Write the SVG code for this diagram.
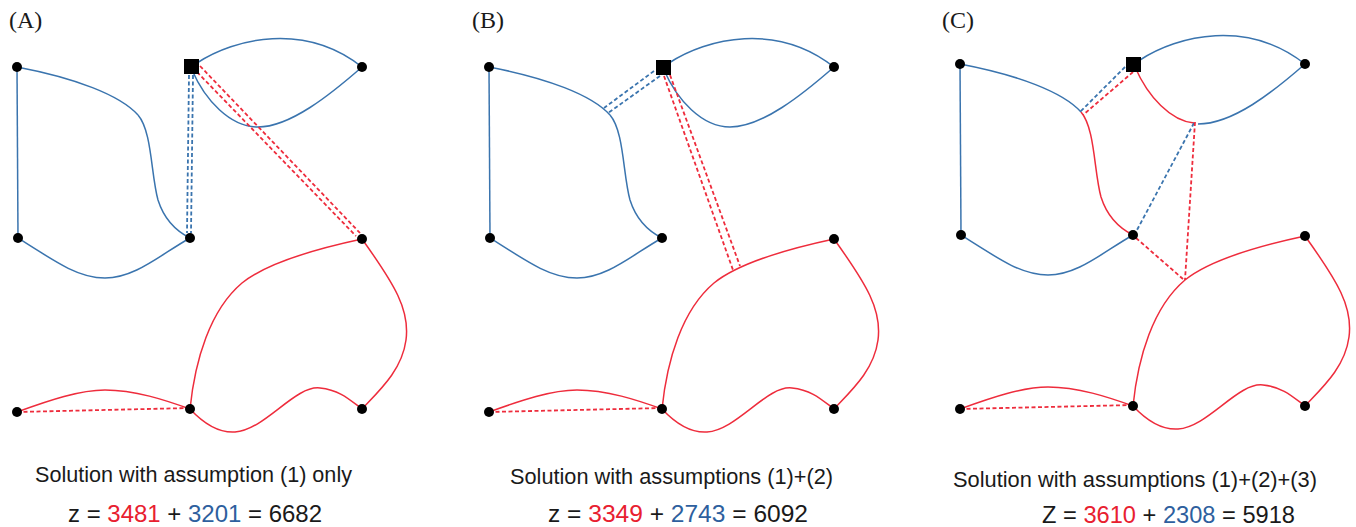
<svg xmlns="http://www.w3.org/2000/svg" width="1356" height="527" viewBox="0 0 1356 527">
<style>
.bg{fill:#ffffff}
.b{fill:none;stroke:#3a74ae;stroke-width:1.5}
.r{fill:none;stroke:#ee2c3c;stroke-width:1.5}
.bd{fill:none;stroke:#3a74ae;stroke-width:1.8;stroke-dasharray:4 2.5}
.rd{fill:none;stroke:#ee2c3c;stroke-width:1.8;stroke-dasharray:4 2.5}
.nd{fill:#000000}
.lbl{font-family:"Liberation Serif","Times New Roman",serif;font-size:24px;fill:#1a1a1a}
.cap{font-family:"Liberation Sans",Arial,sans-serif;font-size:21.5px;fill:#1a1a1a}
.eq{font-family:"Liberation Sans",Arial,sans-serif;font-size:24px;fill:#1a1a1a}
.tr{fill:#e8202f}
.tb{fill:#2e5f9e}
</style>
<defs>
<path id="leftTop" d="M17,67 C75,78 120,95 138,115"/>
<path id="leftBot" d="M138,115 C152,131 151,175 158,200 C165,222 178,232 190,238"/>
<path id="mlC" d="M18,238 C60,265 80,278 105,278 C135,278 160,255 190,238"/>
<path id="tlMl" d="M17,67 L18,238"/>
<path id="topArc" d="M197,63 C235,38 305,22 362,67"/>
<path id="botArc" d="M192,70 C205,100 230,127 258,127 C290,127 330,95 362,67"/>
<path id="bigRed" d="M362,239 C320,248 268,262 242,283 C210,310 195,360 190,409"/>
<path id="rightRed" d="M362,239 C395,285 410,310 406,340 C402,370 380,390 362,409"/>
<path id="wave" d="M190,409 C205,425 220,433 235,432 C265,430 295,385 320,388 C340,390 350,400 362,409"/>
<path id="blArc" d="M17,412 C50,400 80,390 105,390 C135,390 165,400 190,409"/>
<path id="blDash" d="M17,412 L190,408"/>
</defs>
<rect class="bg" x="0" y="0" width="1356" height="527"/>

<!-- Panel A -->
<g id="panelA">
<text class="lbl" x="9" y="28">(A)</text>
<g id="A-connectors">
<use href="#tlMl" class="b"/>
<use href="#leftTop" class="b"/>
<use href="#leftBot" class="b"/>
<use href="#mlC" class="b"/>
<use href="#topArc" class="b"/>
<use href="#botArc" class="b"/>
<path class="bd" d="M189,75 L187,233"/>
<path class="bd" d="M193,75 L191,233"/>
<path class="rd" d="M197,72 L356,236"/>
<path class="rd" d="M200,66 L360,233"/>
<use href="#bigRed" class="r"/>
<use href="#rightRed" class="r"/>
<use href="#wave" class="r"/>
<use href="#blArc" class="r"/>
<use href="#blDash" class="rd"/>
</g>
<g id="A-TL"><circle class="nd" cx="17" cy="67" r="5"/></g>
<g id="A-ML"><circle class="nd" cx="18" cy="238" r="5"/></g>
<g id="A-C"><circle class="nd" cx="190" cy="238" r="5"/></g>
<g id="A-SQ"><rect class="nd" x="184" y="59" width="15" height="15"/></g>
<g id="A-TR"><circle class="nd" cx="362" cy="67" r="5"/></g>
<g id="A-RM"><circle class="nd" cx="362" cy="239" r="5"/></g>
<g id="A-BL"><circle class="nd" cx="17" cy="412" r="5"/></g>
<g id="A-BC"><circle class="nd" cx="190" cy="409" r="5"/></g>
<g id="A-BR"><circle class="nd" cx="362" cy="409" r="5"/></g>
</g>

<!-- Panel B -->
<g id="panelB">
<text class="lbl" x="472" y="28">(B)</text>
<g id="B-connectors" transform="translate(472,0)">
<use href="#tlMl" class="b"/>
<use href="#leftTop" class="b"/>
<use href="#leftBot" class="b"/>
<use href="#mlC" class="b"/>
<use href="#topArc" class="b"/>
<use href="#botArc" class="b"/>
<path class="bd" d="M182,71 L132,108"/>
<path class="bd" d="M188,76 L136,113"/>
<path class="rd" d="M192,76 L261,270"/>
<path class="rd" d="M198,75 L268,266"/>
<use href="#bigRed" class="r"/>
<use href="#rightRed" class="r"/>
<use href="#wave" class="r"/>
<use href="#blArc" class="r"/>
<use href="#blDash" class="rd"/>
</g>
<g transform="translate(472,0)">
<g id="B-TL"><circle class="nd" cx="17" cy="67" r="5"/></g>
<g id="B-ML"><circle class="nd" cx="18" cy="238" r="5"/></g>
<g id="B-C"><circle class="nd" cx="190" cy="238" r="5"/></g>
<g id="B-SQ"><rect class="nd" x="184" y="60" width="15" height="15"/></g>
<g id="B-TR"><circle class="nd" cx="362" cy="67" r="5"/></g>
<g id="B-RM"><circle class="nd" cx="362" cy="239" r="5"/></g>
<g id="B-BL"><circle class="nd" cx="17" cy="412" r="5"/></g>
<g id="B-BC"><circle class="nd" cx="190" cy="409" r="5"/></g>
<g id="B-BR"><circle class="nd" cx="362" cy="409" r="5"/></g>
</g>
</g>

<!-- Panel C -->
<g id="panelC">
<text class="lbl" x="942" y="28">(C)</text>
<g id="C-connectors" transform="translate(943,-3)">
<use href="#tlMl" class="b"/>
<use href="#leftTop" class="b"/>
<path class="r" d="M138,115 C152,131 151,175 158,200 C165,222 178,232 190,238"/>
<use href="#mlC" class="b"/>
<use href="#topArc" class="b"/>
<path class="r" d="M192,70 C205,100 228,124 251,126"/>
<path class="b" d="M255,127 C290,127 330,95 362,67"/>
<path class="bd" d="M182,70 L137,115"/>
<path class="rd" d="M190,75 L140,118"/>
<path class="bd" d="M251,126 L194,233"/>
<path class="rd" d="M252,125 L242,283"/>
<path class="rd" d="M193,241 L240,282"/>
<use href="#bigRed" class="r"/>
<use href="#rightRed" class="r"/>
<use href="#wave" class="r"/>
<use href="#blArc" class="r"/>
<use href="#blDash" class="rd"/>
</g>
<g transform="translate(943,-3)">
<g id="C-TL"><circle class="nd" cx="17" cy="67" r="5"/></g>
<g id="C-ML"><circle class="nd" cx="18" cy="238" r="5"/></g>
<g id="C-C"><circle class="nd" cx="190" cy="238" r="5"/></g>
<g id="C-SQ"><rect class="nd" x="183" y="60" width="15" height="15"/></g>
<g id="C-TR"><circle class="nd" cx="362" cy="67" r="5"/></g>
<g id="C-RM"><circle class="nd" cx="362" cy="239" r="5"/></g>
<g id="C-BL"><circle class="nd" cx="17" cy="412" r="5"/></g>
<g id="C-BC"><circle class="nd" cx="190" cy="409" r="5"/></g>
<g id="C-BR"><circle class="nd" cx="362" cy="409" r="5"/></g>
</g>
</g>

<!-- Captions -->
<g id="captions">
<text class="cap" x="35" y="482" textLength="317" lengthAdjust="spacingAndGlyphs">Solution with assumption (1) only</text>
<text class="eq" x="68" y="522" textLength="254" lengthAdjust="spacingAndGlyphs">z = <tspan class="tr">3481</tspan> + <tspan class="tb">3201</tspan> = 6682</text>
<text class="cap" x="510" y="484" textLength="323" lengthAdjust="spacingAndGlyphs">Solution with assumptions (1)+(2)</text>
<text class="eq" x="548" y="522" textLength="260" lengthAdjust="spacingAndGlyphs">z = <tspan class="tr">3349</tspan> + <tspan class="tb">2743</tspan> = 6092</text>
<text class="cap" x="953" y="487" textLength="364" lengthAdjust="spacingAndGlyphs">Solution with assumptions (1)+(2)+(3)</text>
<text class="eq" x="1042" y="523" textLength="253" lengthAdjust="spacingAndGlyphs">Z = <tspan class="tr">3610</tspan> + <tspan class="tb">2308</tspan> = 5918</text>
</g>
</svg>
